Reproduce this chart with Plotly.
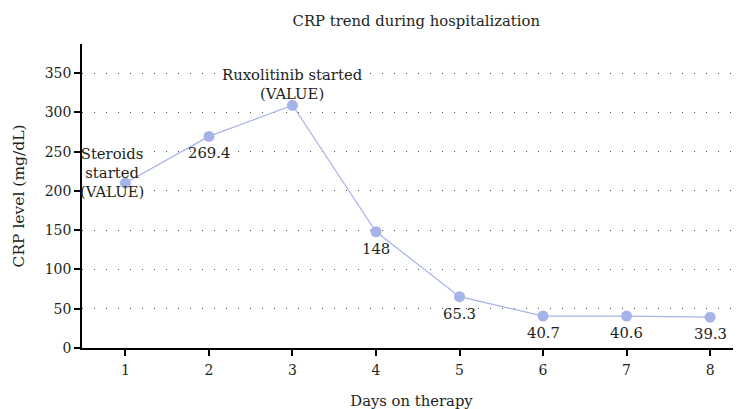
import plotly.graph_objects as go

days = [1, 2, 3, 4, 5, 6, 7, 8]
crp = [210, 269.4, 309, 148, 65.3, 40.7, 40.6, 39.3]
labels = ["Steroids<br>started<br>(VALUE)", "269.4", "Ruxolitinib started<br>(VALUE)",
          "148", "65.3", "40.7", "40.6", "39.3"]
y_ticks = [0, 50, 100, 150, 200, 250, 300, 350]

FONT = "DejaVu Serif"
FS = 14
FA = 14.8
TXT = "#231f20"
COL = "#a5b3e8"

fig = go.Figure()
fig.add_trace(go.Scatter(
    x=days, y=crp, mode="lines+markers",
    line=dict(color=COL, width=1.2),
    marker=dict(color=COL, size=11),
    showlegend=False, hoverinfo="skip"))

annos = []
for i, (d, v, t) in enumerate(zip(days, crp, labels)):
    if i == 0:
        annos.append(dict(x=d, y=v, text=t, showarrow=False, xanchor="center", yanchor="middle",
                          xshift=-13, yshift=11))
    elif i == 2:
        annos.append(dict(x=d, y=v, text=t, showarrow=False, xanchor="center", yanchor="bottom",
                          yshift=1))
    else:
        annos.append(dict(x=d, y=v, text=t, showarrow=False, xanchor="center", yanchor="top",
                          yshift=-6))

# page body has an 8px margin, so the figure is placed at (8, 8)
fig.update_layout(
    width=733, height=401,
    margin=dict(l=74, r=0, t=36, b=61),
    paper_bgcolor="white", plot_bgcolor="white",
    font=dict(family=FONT, size=FS, color=TXT),
    title=dict(text="CRP trend during hospitalization", x=0.557, xanchor="center",
               y=0.968, yanchor="middle", font=dict(size=FA, color=TXT)),
    annotations=[dict(a, font=dict(family=FONT, size=FA, color=TXT)) for a in annos],
    xaxis=dict(range=[0.48, 8.37], tickvals=days, ticktext=[str(d) for d in days],
               automargin=False,
               showgrid=False, zeroline=False, showline=True, linecolor="#000000", linewidth=1.5,
               ticks="outside", ticklen=6, tickwidth=1.5, tickcolor="#000000",
               ticklabelstandoff=2,
               title=dict(text="Days on therapy", font=dict(size=FA), standoff=23),
               tickfont=dict(size=FS)),
    yaxis=dict(range=[0, 387], tickvals=y_ticks, showgrid=True, gridcolor="#555555",
               griddash="1px,11px", gridwidth=1.2, zeroline=False, showline=True,
               automargin=False,
               linecolor="#000000", linewidth=1.5, ticks="outside", ticklen=6,
               tickwidth=1.5, tickcolor="#000000",
               title=dict(text="CRP level (mg/dL)", font=dict(size=15.5), standoff=16),
               tickfont=dict(size=FS)),
)

fig.write_html("out.html")
